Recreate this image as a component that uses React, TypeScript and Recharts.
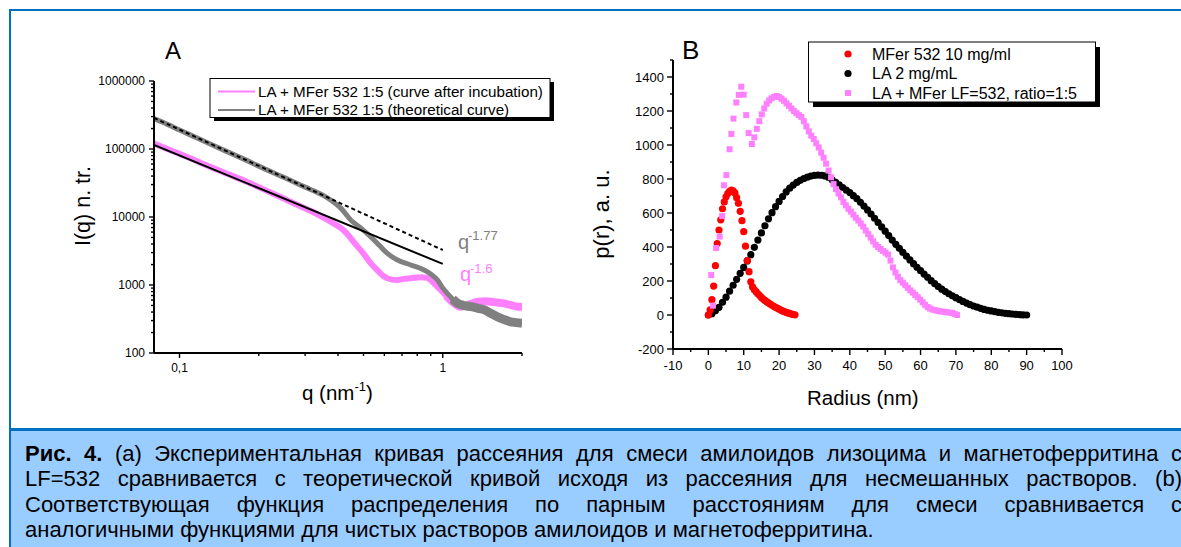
import React from 'react';
import { LineChart, Line, XAxis, YAxis, ScatterChart, Scatter } from 'recharts';

const FONT = '"Liberation Sans", Arial, sans-serif';
const BLUE = '#0070C0';
const PINK = '#FF80FF';
const GRAY = '#808080';

// ---- panel A: I(q) vs q, log-log ----
const incubQ = [0.08, 0.09, 0.1, 0.12, 0.15, 0.18, 0.2, 0.25, 0.3, 0.34, 0.375, 0.42, 0.474, 0.5, 0.532, 0.56, 0.598, 0.64, 0.673, 0.71, 0.756, 0.825, 0.87, 0.9, 0.94, 0.983, 1.03, 1.07, 1.12, 1.17, 1.24, 1.3, 1.355, 1.45, 1.52, 1.6, 1.71, 1.82, 1.92, 2.0];
const incubI = [120000, 100000, 85000, 63000, 44000, 33000, 27500, 18500, 13400, 10600, 8500, 6400, 3700, 2900, 2100, 1700, 1330, 1200, 1185, 1230, 1255, 1300, 1270, 1185, 1000, 843, 700, 600, 520, 480, 505, 540, 569, 575, 569, 555, 537, 505, 480, 480];

const theorQ = [0.08, 0.09, 0.1, 0.12, 0.15, 0.18, 0.2, 0.25, 0.3, 0.35, 0.375, 0.41, 0.447, 0.49, 0.532, 0.575, 0.616, 0.673, 0.756, 0.849, 0.9, 0.955, 1.0, 1.04, 1.09, 1.14, 1.2, 1.28, 1.36, 1.44, 1.52, 1.61, 1.71, 1.81, 1.9, 2.0];
const theorI = [280000, 230000, 190000, 138000, 93000, 68000, 56000, 38000, 27500, 21000, 17800, 13500, 9040, 6800, 5130, 3800, 2920, 2330, 1970, 1660, 1450, 1185, 900, 755, 620, 537, 500, 480, 455, 430, 385, 342, 310, 288, 280, 273];

// power-law fits, end points
const fitDashQ = [0.08, 1];
const fitDashI = [286000, 3270];
const fitSolidQ = [0.08, 1];
const fitSolidI = [114500, 2040];

const aXTicks = [0.1, 0.2, 0.3, 0.4, 0.5, 0.6, 0.7, 0.8, 0.9, 1, 2];
const aYDecades = [100, 1000, 10000, 100000, 1000000];
const minorMult = [1, 2, 3, 4, 5, 6, 7, 8, 9];

// ---- panel B: p(r) vs radius ----
const ferR = [0, 0.5, 1, 1.5, 2, 2.5, 3, 3.5, 4, 4.5, 5, 5.5, 6, 6.5, 7, 7.5, 8, 8.5, 9, 9.5, 10, 10.5, 11, 11.5, 12, 12.5, 13, 13.5, 14, 14.5, 15, 15.5, 16, 16.5, 17, 17.5, 18, 18.5, 19, 19.5, 20, 20.5, 21, 21.5, 22, 22.5, 23, 23.5, 24, 24.5];
const ferP = [0, 30, 90, 170, 290, 420, 500, 560, 625, 665, 695, 715, 727, 735, 730, 718, 690, 657, 610, 555, 490, 405, 320, 255, 195, 165, 148, 137, 125, 114, 103, 94, 86, 78, 71, 64, 57, 51, 45, 40, 34, 29, 24, 20, 16, 12, 9, 6, 3, 1];

const laR = [0, 1, 2, 3, 4, 5, 6, 7, 8, 9, 10, 11, 12, 13, 14, 15, 16, 17, 18, 19, 20, 21, 22, 23, 24, 25, 26, 27, 28, 29, 30, 31, 32, 33, 34, 35, 36, 37, 38, 39, 40, 41, 42, 43, 44, 45, 46, 47, 48, 49, 50, 51, 52, 53, 54, 55, 56, 57, 58, 59, 60, 61, 62, 63, 64, 65, 66, 67, 68, 69, 70, 71, 72, 73, 74, 75, 76, 77, 78, 79, 80, 81, 82, 83, 84, 85, 86, 87, 88, 89, 90];
const laP = [0, 8, 25, 45, 75, 105, 140, 175, 210, 245, 280, 318, 355, 398, 441, 483, 525, 566, 602, 637, 668, 697, 724, 746, 764, 780, 792, 803, 811, 817, 821, 823, 822, 818, 809, 795, 780, 765, 750, 734, 720, 702, 684, 663, 641, 618, 594, 569, 544, 518, 493, 467, 441, 416, 392, 368, 346, 324, 302, 281, 261, 241, 222, 202, 184, 167, 152, 138, 125, 113, 102, 91, 80, 70, 61, 53, 46, 39, 33, 28, 24, 20, 16, 13, 10, 8, 6, 4, 2, 1, 0];

const mixR = [0.8, 1.3, 2.2, 3.2, 3.9, 4.4, 5.1, 6.0, 6.5, 7.1, 7.9, 8.6, 9.3, 10.0, 10.7, 11.4, 12.3, 13.0, 13.7, 14.4, 15.1, 15.8, 16.5, 17.2, 17.9, 18.6, 19.3, 20.0, 20.7, 21.4, 22.1, 22.8, 23.5, 24.2, 24.9, 25.6, 26.3, 27.0, 27.7, 28.4, 29.1, 29.8, 30.5, 31.2, 31.9, 32.6, 33.3, 34.0, 34.7, 35.4, 36.1, 36.8, 37.5, 38.2, 38.9, 39.6, 40.3, 41.0, 41.7, 42.4, 43.1, 43.8, 44.5, 45.2, 45.9, 46.6, 47.3, 48.0, 48.7, 49.4, 50.1, 50.8, 51.5, 52.2, 52.9, 53.6, 54.3, 55.0, 55.7, 56.4, 57.1, 57.8, 58.5, 59.2, 59.9, 60.6, 61.3, 62.0, 62.7, 63.4, 64.1, 64.8, 65.5, 66.2, 66.9, 67.6, 68.3, 69.0, 69.7, 70.3];
const mixP = [235, 55, 394, 461, 582, 763, 823, 975, 1065, 1155, 1250, 1295, 1343, 1296, 1176, 1070, 1006, 1045, 1095, 1140, 1180, 1215, 1242, 1262, 1275, 1283, 1288, 1283, 1272, 1260, 1245, 1230, 1215, 1200, 1187, 1176, 1165, 1140, 1110, 1080, 1055, 1035, 1010, 985, 955, 925, 890, 850, 810, 770, 740, 715, 692, 665, 645, 625, 608, 590, 572, 556, 539, 520, 497, 476, 455, 433, 413, 400, 388, 377, 367, 355, 320, 280, 250, 225, 205, 190, 175, 160, 145, 132, 118, 105, 90, 75, 60, 47, 38, 32, 28, 25, 22, 20, 18, 16, 14, 12, 6, 0];

const bXTicks = [-10, -5, 0, 5, 10, 15, 20, 25, 30, 35, 40, 45, 50, 55, 60, 65, 70, 75, 80, 85, 90, 95, 100];
const bYTicks = [-200, -100, 0, 100, 200, 300, 400, 500, 600, 700, 800, 900, 1000, 1100, 1200, 1300, 1400, 1500];

const caption = [
  'Экспериментальная кривая рассеяния для смеси амилоидов лизоцима и магнетоферритина с',
  'LF=532 сравнивается с теоретической кривой исходя из рассеяния для несмешанных растворов. (b)',
  'Соответствующая функция распределения по парным расстояниям для смеси сравнивается с',
  'аналогичными функциями для чистых растворов амилоидов и магнетоферритина.',
];

const zip = (xs: number[], ys: number[], kx: string, ky: string) =>
  xs.map((x, i) => ({ [kx]: x, [ky]: ys[i] }));

const incubData = zip(incubQ, incubI, 'q', 'I');
const theorData = zip(theorQ, theorI, 'q', 'I');
const dashData = zip(fitDashQ, fitDashI, 'q', 'I');
const solidData = zip(fitSolidQ, fitSolidI, 'q', 'I');
const ferData = zip(ferR, ferP, 'r', 'p');
const laData = zip(laR, laP, 'r', 'p');
const mixData = zip(mixR, mixP, 'r', 'p');

const aYTicks = aYDecades.flatMap((d) => (d === 1000000 ? [d] : minorMult.map((m) => d * m)));
const isDecade = (v: number) => Math.abs(Math.log10(v) - Math.round(Math.log10(v))) < 1e-9;

type TickOpts = {
  side: 'left' | 'bottom';
  major: (v: number) => boolean;
  majorLen: number;
  minorLen: number;
  gap: number;
  fontSize: number;
  format: (v: number) => string;
};

const makeTick = (o: TickOpts) => (props: any) => {
  const { x, y, payload } = props;
  const v = payload.value;
  const big = o.major(v);
  const len = big ? o.majorLen : o.minorLen;
  if (o.side === 'left') {
    return (
      <g>
        <line x1={x} y1={y} x2={x - len} y2={y} stroke="#000" strokeWidth={1.4} />
        {big && (
          <text x={x - o.majorLen - o.gap} y={y} dy="0.36em" textAnchor="end" fontSize={o.fontSize} fontFamily={FONT} fill="#000">
            {o.format(v)}
          </text>
        )}
      </g>
    );
  }
  return (
    <g>
      <line x1={x} y1={y} x2={x} y2={y + len} stroke="#000" strokeWidth={1.4} />
      {big && (
        <text x={x} y={y + o.gap} textAnchor="middle" fontSize={o.fontSize} fontFamily={FONT} fill="#000">
          {o.format(v)}
        </text>
      )}
    </g>
  );
};

const aYTick = makeTick({ side: 'left', major: isDecade, majorLen: 5, minorLen: 3, gap: 4, fontSize: 12, format: (v) => String(v) });
const aXTick = makeTick({ side: 'bottom', major: (v) => v === 0.1 || v === 1, majorLen: 5, minorLen: 3, gap: 19, fontSize: 12, format: (v) => (v === 0.1 ? '0,1' : '1') });
const bYTick = makeTick({ side: 'left', major: (v) => v % 200 === 0 && v <= 1400, majorLen: 6, minorLen: 3, gap: 3, fontSize: 13, format: (v) => String(v) });
const bXTick = makeTick({ side: 'bottom', major: (v) => v % 10 === 0, majorLen: 6, minorLen: 3, gap: 21, fontSize: 13, format: (v) => String(v) });

const axisLine = { stroke: '#000', strokeWidth: 2 };

const dot = (color: string) => (p: any) => <circle cx={p.cx} cy={p.cy} r={3.6} fill={color} />;
const square = (p: any) => <rect x={p.cx - 3} y={p.cy - 3} width={6} height={6} fill={PINK} />;

function PanelA() {
  return (
    <div style={{ position: 'absolute', left: 0, top: 0 }}>
      <LineChart width={600} height={420} margin={{ top: 81, right: 78, bottom: 0, left: 0 }}>
        <XAxis dataKey="q" type="number" scale="log" domain={[0.08, 2]} allowDataOverflow ticks={aXTicks} interval={0}
          tick={aXTick} tickLine={false} tickSize={0} tickMargin={0} axisLine={axisLine} height={67} />
        <YAxis dataKey="I" type="number" scale="log" domain={[100, 1000000]} allowDataOverflow ticks={aYTicks} interval={0}
          tick={aYTick} tickLine={false} tickSize={0} tickMargin={0} axisLine={axisLine} width={154} />
        <Line data={incubData} dataKey="I" type="monotone" stroke={PINK} strokeWidth={6} dot={false} activeDot={false} isAnimationActive={false} />
        <Line data={incubData.filter((d) => d.q >= 1.0)} dataKey="I" type="monotone" stroke={PINK} strokeWidth={8} dot={false} activeDot={false} isAnimationActive={false} />
        <Line data={theorData} dataKey="I" type="monotone" stroke={GRAY} strokeWidth={5} dot={false} activeDot={false} isAnimationActive={false} />
        <Line data={theorData.filter((d) => d.q >= 1.05)} dataKey="I" type="monotone" stroke={GRAY} strokeWidth={9} dot={false} activeDot={false} isAnimationActive={false} />
        <Line data={dashData} dataKey="I" type="linear" stroke="#000" strokeWidth={2} strokeDasharray="4 3" dot={false} activeDot={false} isAnimationActive={false} />
        <Line data={solidData} dataKey="I" type="linear" stroke="#000" strokeWidth={2} dot={false} activeDot={false} isAnimationActive={false} />
      </LineChart>
    </div>
  );
}

function PanelB() {
  return (
    <div style={{ position: 'absolute', left: 600, top: 0 }}>
      <ScatterChart width={500} height={420} margin={{ top: 60, right: 38, bottom: 0, left: 0 }}>
        <XAxis dataKey="r" type="number" domain={[-10, 100]} allowDataOverflow ticks={bXTicks} interval={0}
          tick={bXTick} tickLine={false} tickSize={0} tickMargin={0} axisLine={axisLine} height={71} />
        <YAxis dataKey="p" type="number" domain={[-200, 1500]} allowDataOverflow ticks={bYTicks} interval={0}
          tick={bYTick} tickLine={false} tickSize={0} tickMargin={0} axisLine={axisLine} width={73} />
        <Scatter data={laData} shape={dot('#000')} isAnimationActive={false} />
        <Scatter data={ferData} shape={dot('#FF0000')} isAnimationActive={false} />
        <Scatter data={mixData} shape={square} isAnimationActive={false} />
      </ScatterChart>
    </div>
  );
}

function Overlay() {
  return (
    <svg width={1181} height={428} style={{ position: 'absolute', left: 0, top: 0, pointerEvents: 'none' }} fontFamily={FONT}>
      <text x={165} y={59} fontSize={24}>A</text>
      <text x={682} y={59} fontSize={26}>B</text>

      <text x={90} y={206} fontSize={21.5} textAnchor="middle" transform="rotate(-90 90 206)">I(q) n. tr.</text>
      <text x={302} y={400} fontSize={20.5}>
        q (nm<tspan dy={-9} fontSize={13}>-1</tspan><tspan dy={9} fontSize={20.5}>)</tspan>
      </text>
      <text x={609} y={214} fontSize={22} textAnchor="middle" transform="rotate(-90 609 214)">p(r), a. u.</text>
      <text x={807} y={405} fontSize={20.5}>Radius (nm)</text>

      <text x={458} y={249} fontSize={20} fill={GRAY}>q<tspan x={468} y={240} fontSize={13}>-1.77</tspan></text>
      <text x={460} y={281} fontSize={20} fill={PINK}>q<tspan x={470} y={273} fontSize={13}>-1.6</tspan></text>

      {/* legend A */}
      <rect x={214} y={82} width={340} height={39} fill="#000" />
      <rect x={210} y={78.5} width={340} height={39} fill="#fff" stroke="#000" strokeWidth={1} />
      <line x1={218} y1={91.5} x2={255} y2={91.5} stroke={PINK} strokeWidth={2} />
      <text x={258} y={96.5} fontSize={15.2}>LA + MFer 532 1:5 (curve after incubation)</text>
      <line x1={218} y1={110} x2={255} y2={110} stroke={GRAY} strokeWidth={2} />
      <text x={258} y={114.8} fontSize={15.2}>LA + MFer 532 1:5 (theoretical curve)</text>

      {/* legend B */}
      <rect x={813} y={47} width={287} height={60} fill="#000" />
      <rect x={808.5} y={42} width={287} height={60} fill="#fff" stroke="#000" strokeWidth={1} />
      <circle cx={848} cy={54} r={3.6} fill="#FF0000" />
      <text x={872} y={59.5} fontSize={16}>MFer 532 10 mg/ml</text>
      <circle cx={848} cy={73.5} r={3.6} fill="#000" />
      <text x={872} y={79} fontSize={16}>LA 2 mg/mL</text>
      <rect x={845} y={90} width={6} height={6} fill={PINK} />
      <text x={872} y={99} fontSize={16}>LA + MFer LF=532, ratio=1:5</text>
    </svg>
  );
}

const lineTops = [440.7, 466.2, 491.7, 517.2];

export default function App() {
  return (
    <div style={{ position: 'absolute', left: 0, top: 0, width: 1181, height: 547, overflow: 'hidden', background: '#fff', fontFamily: FONT }}>
      <div style={{ position: 'absolute', left: 9, top: 9, width: 1200, height: 560, borderLeft: `2px solid ${BLUE}`, borderTop: `2px solid ${BLUE}` }} />
      <PanelA />
      <PanelB />
      <Overlay />
      <div style={{ position: 'absolute', left: 9, top: 428, width: 1200, height: 130, background: '#99CCFF', borderTop: `3px solid ${BLUE}`, borderLeft: `2px solid ${BLUE}` }} />
      {caption.map((t, i) => (
        <div key={i} style={{
          position: 'absolute', left: 25, top: lineTops[i], width: 1157, fontSize: 22, lineHeight: '25px',
          whiteSpace: 'nowrap', textAlign: i < 3 ? 'justify' : 'left', textAlignLast: i < 3 ? 'justify' : 'left', color: '#000',
        }}>
          {i === 0 && <b>Рис. 4. </b>}
          {i === 0 ? '(a) ' + t : t}
        </div>
      ))}
    </div>
  );
}
